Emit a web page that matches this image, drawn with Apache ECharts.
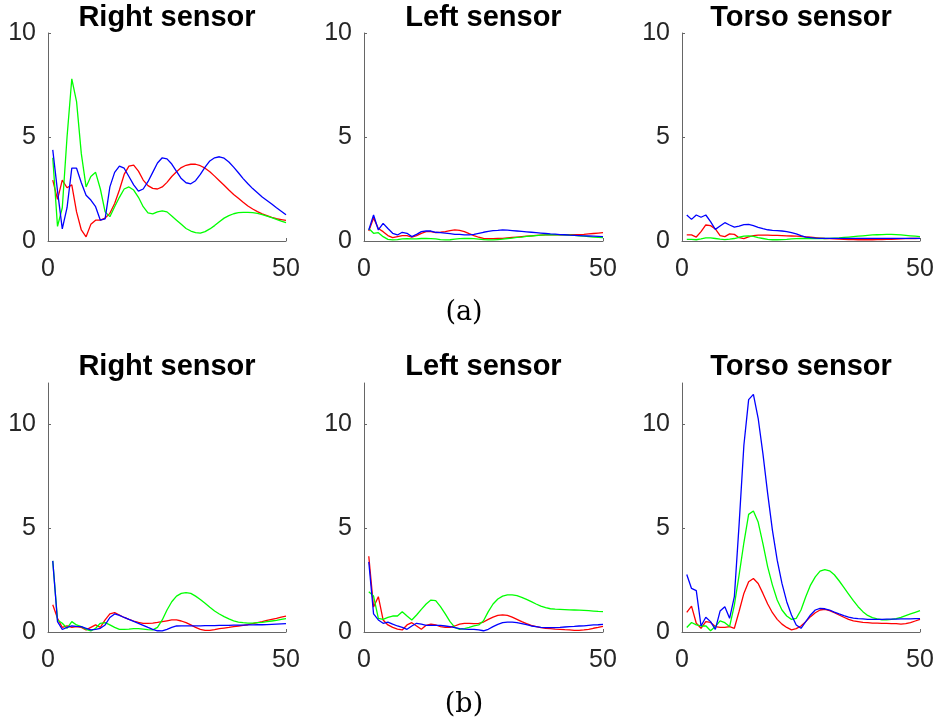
<!DOCTYPE html>
<html lang="en">
<head>
    <meta charset="UTF-8">
    <title>sensor panels</title>
    <script src="https://cdn.jsdelivr.net/npm/echarts@6/dist/echarts.min.js"></script>
    <style>
        body { margin: 0; background: #fff; }
        #main { width: 938px; height: 728px; }
    </style>
</head>
<body>
    <div id="main"></div>
    <script>
        // sample index (x axis)
        var xs = [1, 2, 3, 4, 5, 6, 7, 8, 9, 10, 11, 12, 13, 14, 15, 16, 17, 18, 19, 20,
            21, 22, 23, 24, 25, 26, 27, 28, 29, 30, 31, 32, 33, 34, 35, 36, 37, 38, 39, 40,
            41, 42, 43, 44, 45, 46, 47, 48, 49, 50];

        var panelTitles = ['Right sensor', 'Left sensor', 'Torso sensor'];
        var captions = ['(a)', '(b)'];
        var xTicks = [0, 50];
        var yTicks = [0, 5, 10];

        // (a) right sensor
        var aRightRed = [2.93, 2.0, 2.93, 2.56, 2.7, 1.4, 0.53, 0.2, 0.8, 1.0, 1.0, 1.1, 1.33, 1.8, 2.45, 3.2, 3.6, 3.65, 3.36, 2.93,
            2.66, 2.53, 2.5, 2.6, 2.82, 3.1, 3.33, 3.53, 3.64, 3.69, 3.69, 3.62, 3.5, 3.33, 3.12, 2.9, 2.68, 2.45, 2.24, 2.05,
            1.86, 1.68, 1.54, 1.41, 1.3, 1.22, 1.14, 1.07, 1.03, 0.99];
        var aRightGreen = [4.0, 0.7, 1.6, 5.0, 7.8, 6.7, 4.2, 2.6, 3.1, 3.3, 2.5, 1.4, 1.17, 1.65, 2.1, 2.5, 2.6, 2.45, 2.1, 1.65,
            1.35, 1.3, 1.4, 1.45, 1.4, 1.2, 1.0, 0.8, 0.6, 0.48, 0.4, 0.38, 0.45, 0.58, 0.74, 0.93, 1.1, 1.22, 1.31, 1.36,
            1.38, 1.38, 1.36, 1.33, 1.27, 1.2, 1.12, 1.04, 0.96, 0.88];
        var aRightBlue = [4.38, 2.4, 0.58, 1.6, 3.5, 3.5, 2.8, 2.2, 1.97, 1.65, 1.0, 1.06, 2.6, 3.3, 3.6, 3.5, 3.1, 2.7, 2.4, 2.5,
            2.85, 3.3, 3.75, 4.0, 3.95, 3.7, 3.35, 3.0, 2.8, 2.75, 2.9, 3.2, 3.55, 3.85, 4.0, 4.05, 3.98, 3.8, 3.55, 3.28,
            3.0, 2.75, 2.52, 2.32, 2.12, 1.95, 1.78, 1.6, 1.43, 1.26];

        // (a) left sensor
        var aLeftRed = [0.48, 1.1, 0.6, 0.45, 0.26, 0.16, 0.21, 0.26, 0.26, 0.18, 0.26, 0.37, 0.45, 0.45, 0.4, 0.42, 0.45, 0.5, 0.53, 0.51,
            0.45, 0.35, 0.26, 0.18, 0.13, 0.11, 0.11, 0.12, 0.13, 0.15, 0.17, 0.19, 0.21, 0.23, 0.25, 0.27, 0.28, 0.29, 0.3, 0.3,
            0.3, 0.3, 0.3, 0.3, 0.31, 0.32, 0.34, 0.36, 0.38, 0.4];
        var aLeftGreen = [0.6, 0.37, 0.4, 0.21, 0.08, 0.05, 0.07, 0.1, 0.11, 0.1, 0.1, 0.12, 0.12, 0.11, 0.1, 0.07, 0.05, 0.06, 0.09, 0.11,
            0.12, 0.12, 0.11, 0.09, 0.07, 0.05, 0.05, 0.07, 0.09, 0.12, 0.14, 0.17, 0.19, 0.22, 0.24, 0.26, 0.28, 0.29, 0.3, 0.3,
            0.3, 0.29, 0.28, 0.27, 0.25, 0.23, 0.21, 0.19, 0.17, 0.16];
        var aLeftBlue = [0.53, 1.25, 0.53, 0.85, 0.6, 0.37, 0.29, 0.42, 0.37, 0.21, 0.32, 0.45, 0.48, 0.48, 0.42, 0.4, 0.38, 0.35, 0.32, 0.32,
            0.29, 0.29, 0.32, 0.37, 0.42, 0.46, 0.5, 0.51, 0.53, 0.52, 0.5, 0.48, 0.46, 0.44, 0.42, 0.4, 0.38, 0.36, 0.34, 0.33,
            0.31, 0.3, 0.28, 0.27, 0.26, 0.25, 0.24, 0.23, 0.22, 0.21];

        // (a) torso sensor
        var aTorsoRed = [0.29, 0.29, 0.19, 0.45, 0.77, 0.74, 0.58, 0.26, 0.21, 0.34, 0.32, 0.16, 0.11, 0.2, 0.26, 0.28, 0.28, 0.28, 0.27, 0.27,
            0.26, 0.25, 0.24, 0.23, 0.22, 0.2, 0.18, 0.16, 0.14, 0.12, 0.11, 0.1, 0.09, 0.08, 0.07, 0.07, 0.06, 0.06, 0.06, 0.06,
            0.07, 0.07, 0.08, 0.08, 0.09, 0.1, 0.11, 0.12, 0.12, 0.13];
        var aTorsoGreen = [0.08, 0.08, 0.06, 0.1, 0.15, 0.15, 0.12, 0.09, 0.07, 0.09, 0.12, 0.18, 0.23, 0.25, 0.22, 0.16, 0.12, 0.08, 0.06, 0.06,
            0.07, 0.08, 0.1, 0.11, 0.12, 0.12, 0.12, 0.12, 0.12, 0.12, 0.13, 0.14, 0.15, 0.17, 0.19, 0.21, 0.23, 0.25, 0.27, 0.29,
            0.3, 0.31, 0.32, 0.32, 0.31, 0.29, 0.27, 0.25, 0.23, 0.21];
        var aTorsoBlue = [1.25, 1.04, 1.25, 1.14, 1.25, 0.93, 0.56, 0.72, 0.88, 0.77, 0.67, 0.72, 0.79, 0.8, 0.74, 0.66, 0.59, 0.54, 0.51, 0.5,
            0.48, 0.45, 0.4, 0.34, 0.26, 0.19, 0.16, 0.14, 0.13, 0.13, 0.13, 0.13, 0.13, 0.13, 0.13, 0.13, 0.13, 0.13, 0.13, 0.13,
            0.13, 0.13, 0.13, 0.13, 0.13, 0.13, 0.13, 0.13, 0.13, 0.13];

        // (b) right sensor
        var bRightRed = [1.31, 0.66, 0.22, 0.29, 0.22, 0.26, 0.22, 0.1, 0.22, 0.34, 0.22, 0.58, 0.87, 0.93, 0.82, 0.7, 0.61, 0.53, 0.46, 0.42,
            0.42, 0.43, 0.46, 0.5, 0.54, 0.58, 0.58, 0.53, 0.45, 0.34, 0.22, 0.13, 0.08, 0.08, 0.11, 0.16, 0.19, 0.22, 0.26, 0.29,
            0.32, 0.35, 0.4, 0.45, 0.5, 0.56, 0.61, 0.66, 0.72, 0.77];
        var bRightGreen = [3.43, 0.58, 0.42, 0.18, 0.5, 0.34, 0.26, 0.13, 0.05, 0.18, 0.42, 0.45, 0.34, 0.22, 0.13, 0.13, 0.14, 0.16, 0.16, 0.14,
            0.11, 0.1, 0.22, 0.58, 1.06, 1.46, 1.73, 1.86, 1.9, 1.86, 1.73, 1.57, 1.38, 1.19, 1.01, 0.87, 0.74, 0.63, 0.54, 0.48,
            0.45, 0.43, 0.43, 0.45, 0.46, 0.5, 0.53, 0.56, 0.61, 0.64];
        var bRightBlue = [3.43, 0.5, 0.12, 0.22, 0.29, 0.27, 0.26, 0.18, 0.1, 0.13, 0.18, 0.34, 0.7, 0.87, 0.8, 0.7, 0.61, 0.51, 0.42, 0.32,
            0.22, 0.13, 0.06, 0.05, 0.13, 0.22, 0.29, 0.3, 0.3, 0.3, 0.3, 0.3, 0.31, 0.31, 0.31, 0.32, 0.32, 0.32, 0.33, 0.33,
            0.33, 0.34, 0.34, 0.35, 0.35, 0.36, 0.37, 0.38, 0.39, 0.4];

        // (b) left sensor
        var bLeftRed = [3.65, 1.2, 1.7, 0.58, 0.34, 0.22, 0.14, 0.1, 0.34, 0.45, 0.29, 0.13, 0.32, 0.38, 0.34, 0.26, 0.22, 0.22, 0.29, 0.38,
            0.42, 0.42, 0.4, 0.42, 0.48, 0.61, 0.72, 0.8, 0.83, 0.8, 0.72, 0.61, 0.5, 0.4, 0.32, 0.26, 0.21, 0.18, 0.16, 0.14,
            0.13, 0.11, 0.1, 0.08, 0.08, 0.1, 0.13, 0.18, 0.22, 0.27];
        var bLeftGreen = [1.94, 1.73, 0.66, 0.61, 0.7, 0.77, 0.77, 0.98, 0.77, 0.58, 0.82, 1.09, 1.35, 1.54, 1.51, 1.22, 0.87, 0.5, 0.22, 0.13,
            0.16, 0.22, 0.29, 0.34, 0.54, 0.98, 1.35, 1.59, 1.73, 1.79, 1.79, 1.75, 1.67, 1.57, 1.46, 1.35, 1.25, 1.17, 1.12, 1.1,
            1.09, 1.08, 1.07, 1.06, 1.05, 1.04, 1.03, 1.01, 0.99, 0.98];
        var bLeftBlue = [3.38, 0.87, 0.58, 0.42, 0.48, 0.38, 0.29, 0.22, 0.13, 0.29, 0.42, 0.38, 0.32, 0.32, 0.32, 0.32, 0.29, 0.26, 0.21, 0.16,
            0.14, 0.13, 0.13, 0.1, 0.06, 0.13, 0.26, 0.37, 0.45, 0.48, 0.48, 0.45, 0.4, 0.35, 0.29, 0.26, 0.22, 0.21, 0.21, 0.21,
            0.22, 0.24, 0.26, 0.27, 0.29, 0.3, 0.32, 0.34, 0.35, 0.37];

        // (b) torso sensor
        var bTorsoRed = [0.95, 1.25, 0.42, 0.18, 0.5, 0.46, 0.26, 0.22, 0.22, 0.26, 0.18, 1.0, 1.86, 2.42, 2.58, 2.34, 1.86, 1.35, 0.93, 0.61,
            0.38, 0.22, 0.1, 0.16, 0.29, 0.5, 0.74, 0.93, 1.06, 1.09, 1.03, 0.93, 0.82, 0.71, 0.61, 0.54, 0.5, 0.46, 0.45, 0.43,
            0.43, 0.42, 0.42, 0.4, 0.4, 0.38, 0.4, 0.45, 0.53, 0.61];
        var bTorsoGreen = [0.22, 0.46, 0.34, 0.29, 0.3, 0.06, 0.26, 0.54, 0.45, 0.26, 1.3, 2.75, 4.3, 5.67, 5.83, 5.3, 4.26, 3.14, 2.26, 1.54,
            1.06, 0.77, 0.61, 0.66, 1.06, 1.7, 2.26, 2.66, 2.93, 3.01, 2.95, 2.76, 2.47, 2.15, 1.83, 1.51, 1.22, 0.98, 0.8, 0.69,
            0.63, 0.59, 0.59, 0.61, 0.64, 0.71, 0.79, 0.87, 0.95, 1.03];
        var bTorsoBlue = [2.77, 2.1, 1.99, 0.29, 0.71, 0.5, 0.13, 1.01, 1.22, 0.66, 1.7, 5.2, 9.0, 11.2, 11.45, 10.3, 8.6, 6.67, 4.9, 3.46,
            2.34, 1.46, 0.82, 0.34, 0.18, 0.5, 0.82, 1.06, 1.14, 1.12, 1.06, 0.96, 0.87, 0.79, 0.72, 0.67, 0.64, 0.63, 0.61, 0.61,
            0.61, 0.61, 0.62, 0.62, 0.62, 0.63, 0.63, 0.63, 0.64, 0.64];

        var panels = [
            [aRightRed, aRightGreen, aRightBlue],
            [aLeftRed, aLeftGreen, aLeftBlue],
            [aTorsoRed, aTorsoGreen, aTorsoBlue],
            [bRightRed, bRightGreen, bRightBlue],
            [bLeftRed, bLeftGreen, bLeftBlue],
            [bTorsoRed, bTorsoGreen, bTorsoBlue]
        ];
        var lineColors = ['#ff0000', '#00ff00', '#0000ff'];

        var lefts = [48, 364, 682];
        var widths = [238, 239, 238];
        var rowTop = [33, 383];
        var rowHeight = [208, 249];
        var rowMax = [10, 12];
        var titleTop = [3, 352];
        var captionTop = [299, 691];

        var grid = [], xAxis = [], yAxis = [], series = [], graphic = [];

        for (var p = 0; p < 6; p++) {
            var row = Math.floor(p / 3), col = p % 3;
            grid.push({ left: lefts[col], top: rowTop[row], width: widths[col], height: rowHeight[row] });
            xAxis.push({
                type: 'value', gridIndex: p, min: 0, max: 50,
                axisLine: { lineStyle: { color: '#666', width: 1 } },
                axisTick: { inside: true, length: 3, lineStyle: { color: '#666' }, customValues: xTicks },
                axisLabel: { fontSize: 25, fontFamily: 'Liberation Sans', color: '#262626', margin: 16, customValues: xTicks },
                splitLine: { show: false }
            });
            yAxis.push({
                type: 'value', gridIndex: p, min: 0, max: rowMax[row],
                axisLine: { show: true, lineStyle: { color: '#666', width: 1 } },
                axisTick: { show: true, inside: true, length: 3, lineStyle: { color: '#666' }, customValues: yTicks },
                axisLabel: { fontSize: 25, fontFamily: 'Liberation Sans', color: '#262626', margin: 12, customValues: yTicks },
                splitLine: { show: false }
            });
            for (var s = 0; s < 3; s++) {
                var vals = panels[p][s];
                series.push({
                    type: 'line', xAxisIndex: p, yAxisIndex: p,
                    data: xs.map(function (x, i) { return [x, vals[i]]; }),
                    showSymbol: false, silent: true,
                    lineStyle: { color: lineColors[s], width: 1.3 },
                    itemStyle: { color: lineColors[s] }
                });
            }
            graphic.push({
                type: 'text', x: lefts[col] + widths[col] / 2, y: titleTop[row],
                style: { text: panelTitles[col], font: 'bold 29px "Liberation Sans"', fill: '#000', align: 'center', verticalAlign: 'top' }
            });
        }
        for (var c = 0; c < 2; c++) {
            graphic.push({
                type: 'text', x: 464, y: captionTop[c],
                style: { text: captions[c], font: '27px "DejaVu Serif"', fill: '#000', align: 'center', verticalAlign: 'top' }
            });
        }

        var myChart = echarts.init(document.getElementById('main'));
        myChart.setOption({
            animation: false,
            grid: grid,
            xAxis: xAxis,
            yAxis: yAxis,
            series: series,
            graphic: graphic
        });
    </script>
</body>
</html>
